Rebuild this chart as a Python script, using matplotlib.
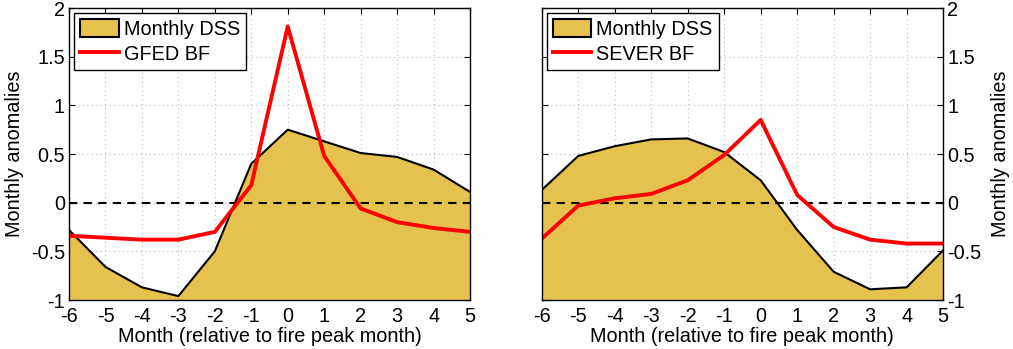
import matplotlib
matplotlib.use("Agg")
import matplotlib.pyplot as plt
from matplotlib.patches import Patch
from matplotlib.lines import Line2D

plt.rcParams['font.family'] = ['Liberation Sans', 'DejaVu Sans']

months = [-6, -5, -4, -3, -2, -1, 0, 1, 2, 3, 4, 5]
dss_left = [-0.28, -0.66, -0.87, -0.96, -0.50, 0.40, 0.75, 0.63, 0.51, 0.47, 0.34, 0.11]
gfed_bf = [-0.34, -0.36, -0.38, -0.38, -0.30, 0.18, 1.81, 0.48, -0.06, -0.20, -0.26, -0.30]
dss_right = [0.13, 0.48, 0.58, 0.65, 0.66, 0.52, 0.23, -0.28, -0.71, -0.89, -0.87, -0.49]
sever_bf = [-0.37, -0.03, 0.045, 0.09, 0.23, 0.49, 0.85, 0.08, -0.25, -0.38, -0.42, -0.42]

yticks = [-1, -0.5, 0, 0.5, 1, 1.5, 2]
yticklabels = ['-1', '-0.5', '0', '0.5', '1', '1.5', '2']
xlabel = 'Month (relative to fire peak month)'
ylabel = 'Monthly anomalies'

fill_color = '#E5C24D'
FS = 14.3

fig = plt.figure(figsize=(10.13, 3.49), dpi=100)
ax1 = fig.add_axes([0.0681, 0.1404, 0.3959, 0.8366])
ax2 = fig.add_axes([0.5348, 0.1404, 0.3962, 0.8366])

def draw(ax, dss, bf, bf_label, right=False):
    ax.fill_between(months, -1, dss, color=fill_color, zorder=1, linewidth=0)
    ax.plot(months, dss, color='black', lw=1.5, zorder=3)
    ax.axhline(0, color='black', ls=(0, (4, 3)), lw=1.5, zorder=2)
    ax.plot(months, bf, color='#FF0000', lw=2.8, zorder=4, solid_capstyle='butt')
    ax.set_xlim(-6, 5)
    ax.set_ylim(-1, 2)
    ax.set_xticks(months)
    ax.set_xticklabels([str(m) for m in months])
    ax.set_yticks(yticks)
    ax.set_yticklabels(yticklabels)
    ax.grid(True, ls=(0, (1, 3)), color='#BBBBBB', lw=0.8, zorder=0)
    ax.set_axisbelow(True)
    ax.tick_params(direction='in', length=4, width=0.8, labelsize=FS,
                   top=True, right=True, left=True, bottom=True)
    ax.tick_params(axis='x', pad=5)
    ax.tick_params(axis='y', pad=3)
    for s in ax.spines.values():
        s.set_linewidth(1.0)
        s.set_zorder(5)
    ax.set_xlabel(xlabel, fontsize=FS, labelpad=1)
    if right:
        ax.yaxis.tick_right()
        ax.yaxis.set_label_position('right')
        ax.tick_params(axis='y', left=True, right=True, direction='in')
        ax.set_ylabel(ylabel, fontsize=FS, labelpad=7)
    else:
        ax.set_ylabel(ylabel, fontsize=FS, labelpad=5)
    handles = [Patch(facecolor=fill_color, edgecolor='black', linewidth=1.5),
               Line2D([0], [0], color='#FF0000', lw=2.8)]
    leg = ax.legend(handles, ['Monthly DSS', bf_label], loc='upper left',
                    fontsize=FS, frameon=True, fancybox=False, framealpha=1,
                    edgecolor='black', borderpad=0.3, labelspacing=0.3,
                    handlelength=1.95, handleheight=1.0, handletextpad=0.25,
                    borderaxespad=0.25)
    leg.get_frame().set_linewidth(1.0)

draw(ax1, dss_left, gfed_bf, 'GFED BF')
draw(ax2, dss_right, sever_bf, 'SEVER BF', right=True)

fig.savefig('out.png', dpi=100)
